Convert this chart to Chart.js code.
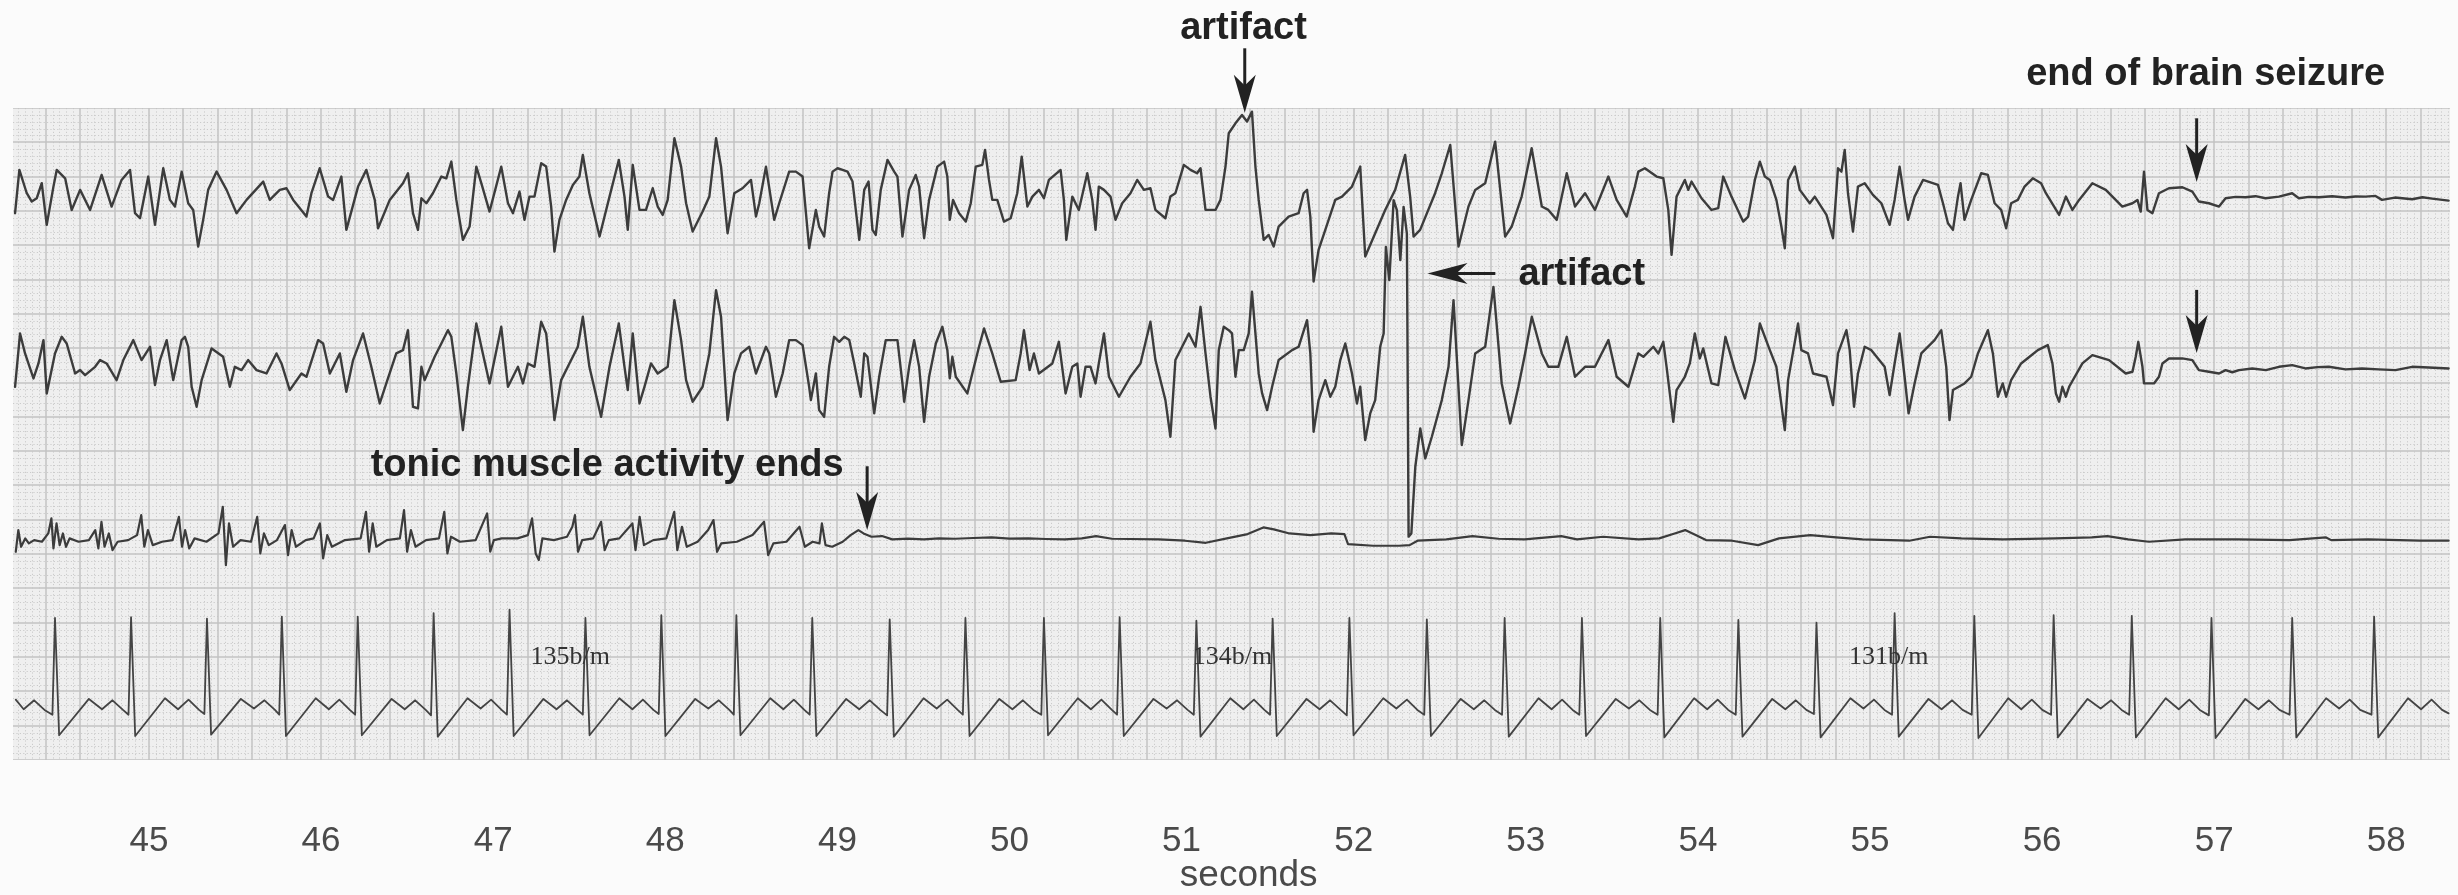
<!DOCTYPE html>
<html><head><meta charset="utf-8">
<script src="https://cdn.jsdelivr.net/npm/chart.js@4.4.1/dist/chart.umd.min.js"></script>
<style>
html,body{margin:0;padding:0;background:#fbfbfb;}
#wrap{position:relative;width:2458px;height:895px;}
</style></head><body>
<div id="wrap"><canvas id="c" width="2458" height="895"></canvas></div>
<script>
// ---------- data (time in seconds, deflection in mm of chart paper) ----------
const tickSeconds = [45,46,47,48,49,50,51,52,53,54,55,56,57,58];

const eeg1 = [
[44.222,-2.23],[44.247,4.08],[44.290,0.68],[44.319,-0.53],[44.348,-0.05],[44.377,2.14],[44.406,-3.93],[44.445,1.65],[44.464,4.08],[44.513,2.86],[44.551,-1.75],[44.600,1.17],[44.658,-1.75],[44.725,3.35],[44.783,-1.26],[44.841,2.62],[44.890,4.08],[44.919,-2.23],[44.948,-2.96],[44.996,3.11],[45.035,-3.93],[45.083,4.32],[45.122,-0.29],[45.151,-1.26],[45.190,3.83],[45.228,-0.78],[45.257,-1.75],[45.286,-7.09],[45.315,-3.20],[45.344,1.17],[45.393,3.83],[45.451,1.17],[45.509,-2.23],[45.567,-0.29],[45.664,2.38],[45.702,-0.29],[45.760,1.17],[45.799,1.41],[45.838,-0.29],[45.915,-2.72],[45.944,0.68],[45.992,4.32],[46.041,0.19],[46.070,-0.29],[46.118,3.11],[46.147,-4.66],[46.215,1.65],[46.263,4.08],[46.312,-0.29],[46.331,-4.42],[46.399,-0.29],[46.476,2.14],[46.505,3.59],
[46.534,-2.23],[46.563,-4.66],[46.583,-0.05],[46.612,-0.78],[46.650,0.68],[46.699,3.11],[46.728,2.86],[46.757,5.29],[46.786,-0.29],[46.824,-6.12],[46.863,-4.17],[46.902,4.56],[46.931,2.14],[46.979,-1.99],[47.047,4.56],[47.086,-0.78],[47.115,-2.23],[47.153,0.92],[47.182,-3.20],[47.211,0.19],[47.240,0.19],[47.279,5.05],[47.308,4.56],[47.337,-1.26],[47.356,-7.82],[47.385,-3.20],[47.424,-0.29],[47.463,1.89],[47.501,3.11],[47.521,6.26],[47.559,0.68],[47.618,-5.63],[47.676,0.19],[47.730,5.53],[47.763,0.19],[47.782,-4.66],[47.811,4.81],[47.850,-1.75],[47.888,-1.75],[47.927,1.41],[47.956,-1.26],[47.985,-2.48],[48.014,-0.29],[48.053,8.69],[48.092,4.56],[48.121,-0.78],[48.159,-4.90],[48.217,-1.99],[48.256,0.19],[48.295,8.69],[48.324,4.56],[48.362,-5.15],[48.401,0.68],[48.449,1.41],[48.498,2.62],[48.527,-2.72],[48.546,-0.78],[48.585,4.56],[48.633,-3.20],[48.662,-0.78],[48.720,3.83],[48.759,3.83],[48.798,3.11],[48.836,-7.33],[48.875,-1.75],
[48.894,-4.17],[48.923,-5.63],[48.952,0.68],[48.972,3.83],[49.001,4.32],[49.030,4.08],[49.059,3.83],[49.088,2.38],[49.107,-1.75],[49.127,-6.12],[49.156,1.17],[49.181,2.38],[49.204,-4.66],[49.223,-5.39],[49.252,1.17],[49.291,5.53],[49.330,3.83],[49.349,3.11],[49.378,-5.63],[49.417,1.17],[49.455,3.35],[49.475,1.65],[49.504,-5.87],[49.533,-0.29],[49.581,4.56],[49.620,5.29],[49.639,3.11],[49.653,-3.20],[49.672,-0.29],[49.707,-2.23],[49.746,-3.45],[49.775,-0.78],[49.804,4.56],[49.842,4.81],[49.858,6.99],[49.881,2.62],[49.900,-0.29],[49.929,-0.29],[49.968,-3.45],[50.007,-2.96],[50.045,0.68],[50.071,6.02],[50.104,-1.26],[50.133,0.19],[50.171,1.17],[50.200,-0.05],[50.229,2.62],[50.297,4.08],[50.316,-0.29],[50.330,-6.12],[50.365,0.19],[50.403,-1.75],[50.452,3.59],[50.481,-0.29],[50.500,-4.66],[50.519,1.65],[50.549,1.17],[50.587,0.19],[50.616,-3.20],[50.655,-0.78],[50.703,0.68],[50.742,2.62],[50.781,1.17],[50.819,1.41],[50.848,-1.75],[50.906,-2.96],[50.935,0.19],[50.964,0.68],[51.013,4.81],[51.052,4.08],[51.090,3.59],[51.110,4.32],[51.139,-1.75],[51.197,-1.75],[51.226,-0.29],[51.255,4.56],
[51.274,9.42],[51.313,10.87],[51.351,12.09],[51.380,11.12],[51.409,12.57],[51.429,4.56],[51.448,-0.29],[51.477,-6.12],[51.506,-5.39],[51.535,-7.09],[51.564,-4.17],[51.622,-2.72],[51.680,-2.23],[51.709,0.68],[51.729,1.17],[51.748,-2.72],[51.767,-12.18],[51.796,-7.57],[51.835,-4.66],[51.893,-0.29],[51.932,0.19],[51.990,1.65],[52.038,4.56],[52.067,-8.54],[52.125,-5.15],[52.183,-1.75],[52.241,1.17],[52.299,6.26],[52.328,0.19],[52.348,-5.63],[52.386,-4.66],[52.473,0.68],[52.512,3.59],[52.561,7.72],[52.609,-7.09],[52.667,-1.26],[52.706,1.17],[52.764,2.14],[52.822,8.20],[52.880,-5.63],[52.918,-4.17],[52.976,0.19],[53.034,7.23],[53.093,-1.26],[53.131,-1.75],[53.180,-3.20],[53.238,3.59],[53.286,-1.26],[53.344,0.68],[53.402,-1.75],[53.480,3.11],[53.528,-0.29],[53.586,-2.72],[53.634,1.65],
[53.654,3.83],[53.692,4.32],[53.760,3.11],[53.799,2.86],[53.828,-1.75],[53.847,-8.30],[53.876,0.19],[53.924,2.62],[53.944,1.17],[53.963,2.38],[54.021,-0.05],[54.079,-1.75],[54.118,-1.50],[54.147,3.11],[54.195,0.19],[54.263,-3.45],[54.292,-2.72],[54.331,2.62],[54.360,5.29],[54.389,3.11],[54.418,2.62],[54.456,-0.29],[54.485,-4.17],[54.505,-7.33],[54.524,2.62],[54.563,4.56],[54.592,1.17],[54.650,-0.78],[54.679,0.19],[54.747,-2.48],[54.785,-5.87],[54.814,4.32],[54.834,3.83],[54.853,6.99],[54.872,0.68],[54.901,-4.90],[54.930,1.65],[54.969,2.14],[55.017,0.44],[55.066,-0.78],[55.114,-3.93],[55.143,-0.29],[55.172,4.56],[55.201,-0.29],[55.221,-3.20],[55.259,0.19],[55.308,2.62],[55.395,1.89],[55.424,-0.78],[55.453,-3.69],[55.482,-4.66],[55.511,0.19],[55.526,2.14],[55.549,-3.20],[55.588,-0.29],[55.646,3.59],[55.685,3.35],[55.724,-0.78],[55.762,-1.75],[55.791,-4.42],[55.820,-0.78],[55.859,-0.29],[55.898,1.65],[55.946,2.86],[55.994,2.14],
[56.022,0.68],[56.099,-2.48],[56.138,0.19],[56.176,-1.75],[56.215,-0.29],[56.292,2.14],[56.370,1.17],[56.466,-1.26],[56.525,-0.78],[56.554,-0.29],[56.573,-1.99],[56.592,3.83],[56.612,-1.75],[56.641,-2.23],[56.679,0.68],[56.737,1.41],[56.815,1.55],[56.873,0.92],[56.911,-0.53],[56.969,-0.78],[57.028,-1.26],[57.066,-0.05],[57.124,0.15],[57.182,0.10],[57.240,0.25],[57.298,-0.05],[57.376,0.19],[57.453,0.68],[57.492,-0.05],[57.550,0.15],[57.608,0.10],[57.685,0.25],[57.763,0.05],[57.821,0.20],[57.879,0.19],[57.937,0.29],[57.975,-0.29],[58.050,0.05],[58.150,-0.19],[58.210,0.10],[58.266,-0.10],[58.362,-0.39]
];

const eeg2 = [
[44.222,-2.72],[44.251,5.05],[44.280,2.14],[44.329,-1.50],[44.358,0.68],[44.387,4.08],[44.406,-3.69],[44.454,2.14],[44.493,4.56],[44.522,3.59],[44.571,-0.78],[44.600,-0.29],[44.629,-1.02],[44.687,0.19],[44.716,1.17],[44.754,0.68],[44.812,-1.75],[44.851,1.17],[44.909,4.08],[44.957,1.17],[45.006,3.11],[45.035,-2.48],[45.064,1.17],[45.103,4.08],[45.141,-1.75],[45.190,4.08],[45.209,4.56],[45.228,3.11],[45.248,-2.72],[45.277,-5.63],[45.306,-1.75],[45.364,2.86],[45.431,1.65],[45.470,-2.72],[45.499,0.19],[45.538,-0.29],[45.576,1.17],[45.625,-0.29],[45.683,-0.78],[45.741,2.14],[45.770,0.68],[45.818,-3.20],[45.886,-0.78],[45.915,-1.26],[45.983,4.08],[46.012,3.59],[46.051,-0.78],[46.109,2.14],[46.147,-3.45],[46.186,1.17],[46.244,5.05],[46.292,0.19],[46.341,-5.15],[46.379,-2.23],[46.437,2.14],[46.476,2.62],[46.505,5.53],
[46.534,-5.63],[46.563,-5.87],[46.583,0.19],[46.602,-1.75],[46.660,1.65],[46.699,3.59],[46.737,5.53],[46.757,4.56],[46.786,-0.78],[46.824,-9.03],[46.853,-2.72],[46.902,6.50],[46.940,2.14],[46.979,-2.23],[47.047,6.02],[47.086,-2.72],[47.115,-1.26],[47.144,0.19],[47.173,-2.23],[47.202,0.68],[47.240,0.19],[47.279,6.75],[47.308,5.05],[47.337,-2.23],[47.356,-7.57],[47.395,-1.75],[47.443,0.68],[47.492,3.11],[47.521,7.48],[47.559,0.19],[47.627,-7.09],[47.676,0.19],[47.730,6.50],[47.763,0.19],[47.782,-3.20],[47.811,5.05],[47.850,-5.15],[47.879,-2.72],[47.917,0.68],[47.956,-0.78],[48.014,0.19],[48.053,9.90],[48.092,4.08],[48.121,-1.75],[48.159,-4.90],[48.217,-2.72],[48.256,2.14],[48.295,11.36],[48.324,7.48],[48.362,-7.57],[48.401,-0.78],[48.440,2.14],[48.488,3.11],[48.527,-0.78],[48.556,1.17],[48.585,3.11],[48.604,2.14],[48.643,-4.17],[48.682,-0.78],[48.720,4.08],[48.759,4.08],[48.798,3.35],[48.836,-2.72],[48.846,-4.66],[48.875,-0.78],
[48.894,-6.12],[48.923,-7.09],[48.952,0.19],[48.981,4.56],[49.011,3.83],[49.040,4.56],[49.069,4.08],[49.098,0.68],[49.136,-4.17],[49.156,2.14],[49.175,1.65],[49.214,-6.60],[49.243,-1.26],[49.281,4.08],[49.349,4.08],[49.378,-2.23],[49.388,-4.90],[49.417,0.19],[49.446,4.08],[49.475,0.19],[49.504,-7.82],[49.533,-1.26],[49.572,3.59],[49.610,6.02],[49.639,2.62],[49.653,-1.50],[49.668,1.65],[49.688,-1.26],[49.755,-3.69],[49.784,-0.78],[49.823,3.11],[49.852,5.78],[49.900,2.14],[49.949,-1.99],[50.036,-1.75],[50.065,2.14],[50.084,5.53],[50.117,-0.29],[50.142,2.14],[50.171,-0.78],[50.249,0.68],[50.287,3.83],[50.326,-3.69],[50.365,0.19],[50.394,0.68],[50.413,-4.17],[50.442,0.19],[50.471,0.19],[50.500,-2.23],[50.519,0.68],[50.549,5.05],[50.578,-1.26],[50.636,-4.17],[50.703,-1.26],[50.761,0.68],[50.819,6.75],[50.848,1.17],[50.906,-4.66],[50.935,-10.00],[50.964,1.17],[51.042,5.05],[51.081,3.11],[51.110,8.93],[51.139,2.14],[51.168,-4.17],[51.197,-8.79],[51.216,2.62],[51.245,6.02],[51.274,5.53],
[51.293,5.05],[51.313,-1.26],[51.332,2.62],[51.361,2.62],[51.390,5.05],[51.409,11.12],[51.429,5.05],[51.448,-0.78],[51.468,-3.69],[51.497,-6.12],[51.526,-2.72],[51.564,1.17],[51.642,2.62],[51.680,3.11],[51.729,6.99],[51.748,2.14],[51.767,-9.27],[51.796,-4.66],[51.835,-1.75],[51.864,-4.17],[51.893,-2.72],[51.922,1.17],[51.951,3.59],[51.990,-0.78],[52.019,-5.15],[52.038,-2.72],[52.067,-10.49],[52.096,-6.60],[52.125,-4.66],[52.154,3.11],[52.174,5.05],[52.187,17.67],[52.207,12.82],[52.232,24.47],[52.251,23.01],[52.271,15.73],[52.290,23.50],[52.309,19.61],[52.319,-24.56],[52.335,-24.08],[52.358,-14.37],[52.387,-8.79],[52.416,-13.16],[52.454,-10.00],[52.512,-4.66],[52.551,0.19],[52.580,9.90],[52.628,-11.21],[52.667,-4.66],[52.706,2.14],[52.764,3.11],[52.812,11.84],[52.860,-2.23],[52.909,-8.06],[52.957,-2.72],[52.996,2.14],[53.035,7.48],[53.093,2.14],[53.131,0.19],[53.189,0.19],[53.238,4.56],[53.286,-1.26],[53.344,0.19],[53.402,0.19],[53.480,4.08],[53.528,-1.26],[53.596,-2.72],[53.654,2.14],
[53.683,1.65],[53.741,3.11],[53.770,2.14],[53.799,3.83],[53.818,0.19],[53.857,-7.82],[53.876,-3.20],[53.924,-1.26],[53.953,0.68],[53.982,5.05],[54.011,1.41],[54.031,2.86],[54.079,-2.23],[54.118,-2.48],[54.160,4.56],[54.215,-0.29],[54.273,-4.42],[54.331,1.17],[54.360,6.50],[54.418,2.62],[54.456,0.19],[54.505,-9.03],[54.524,-1.75],[54.582,6.50],[54.601,2.62],[54.640,2.14],[54.669,-0.78],[54.747,-1.26],[54.785,-5.39],[54.814,2.14],[54.863,5.53],[54.882,2.62],[54.907,-5.63],[54.930,-0.78],[54.969,3.11],[55.008,2.62],[55.085,0.19],[55.114,-3.93],[55.143,0.68],[55.172,5.05],[55.201,-1.26],[55.224,-6.60],[55.259,-2.23],[55.298,2.14],[55.375,4.08],[55.414,5.53],[55.443,0.19],[55.462,-7.57],[55.482,-3.20],[55.549,-2.23],[55.588,-1.26],[55.627,2.14],[55.685,5.53],[55.714,2.14],[55.743,-4.17],[55.771,-2.23],[55.791,-4.17],[55.820,-1.75],[55.878,0.68],[55.927,1.65],[55.975,2.62],[56.033,3.35],
[56.060,0.68],[56.080,-3.69],[56.099,-4.90],[56.118,-2.72],[56.138,-4.17],[56.157,-2.72],[56.234,0.68],[56.292,1.89],[56.389,1.17],[56.486,-0.78],[56.525,-0.53],[56.544,1.65],[56.559,3.83],[56.583,0.19],[56.592,-2.23],[56.650,-2.23],[56.679,-1.26],[56.699,0.68],[56.737,1.41],[56.815,1.41],[56.873,1.17],[56.911,-0.29],[56.969,-0.53],[57.028,-0.78],[57.066,-0.29],[57.105,-0.60],[57.144,-0.29],[57.221,-0.05],[57.300,-0.30],[57.376,0.19],[57.453,0.44],[57.530,-0.05],[57.600,0.15],[57.666,0.19],[57.763,-0.19],[57.859,-0.05],[57.956,-0.19],[58.053,-0.29],[58.150,0.19],[58.246,0.10],[58.362,-0.05]
];

const emg = [
[44.226,-1.46],[44.241,1.70],[44.257,-0.73],[44.281,0.49],[44.302,-0.24],[44.333,0.24],[44.378,0],[44.415,1.21],[44.433,3.40],[44.445,-0.97],[44.463,2.67],[44.481,-0.49],[44.500,1.21],[44.518,-0.73],[44.539,0.49],[44.591,0],[44.651,0.24],[44.688,1.70],[44.706,-0.97],[44.724,2.91],[44.742,-0.73],[44.767,1.21],[44.788,-1.21],[44.818,0],[44.879,0.24],[44.931,0.97],[44.955,3.88],[44.973,-0.73],[44.994,1.70],[45.022,-0.49],[45.076,0],[45.137,0.24],[45.174,3.64],[45.192,-0.73],[45.210,1.70],[45.234,-0.97],[45.265,0.49],[45.334,0],[45.404,1.21],[45.429,5.10],[45.447,-3.40],[45.465,2.67],[45.489,-0.73],[45.532,0.24],[45.593,0],[45.629,3.64],[45.647,-1.70],[45.668,1.21],[45.696,-0.49],[45.744,0.24],[45.790,2.43],[45.808,-1.94],[45.829,1.70],[45.854,-0.73],[45.911,0.24],[45.957,0.49],[45.993,2.67],[46.012,-2.43],[46.036,0.97],[46.063,-0.73],[46.139,0.24],[46.230,0.49],[46.261,4.37],[46.279,-1.46],[46.300,2.67],[46.321,-0.73],[46.382,0.24],[46.458,0.49],[46.482,4.61],[46.500,-1.46],[46.522,1.70],[46.549,-0.73],[46.610,0.24],[46.685,0.49],[46.716,4.37],[46.734,-1.70],[46.755,0.73],[46.807,0],[46.898,0.24],[46.965,4.13],[46.983,-1.46],[47.004,0.24],[47.050,0.49],[47.141,0.49],[47.202,0.97],[47.226,3.40],[47.247,-1.70],[47.265,-2.67],[47.286,0.49],[47.353,0.24],[47.429,0.73],[47.460,2.18],[47.475,3.88],[47.493,-1.46],[47.517,0.24],[47.581,0.49],[47.627,2.91],[47.648,-1.21],[47.672,0.24],[47.733,0.49],[47.809,2.67],[47.827,-1.21],[47.851,3.64],[47.876,-0.49],[47.930,0.24],[48.006,0.49],[48.052,4.37],[48.070,-1.21],[48.097,2.18],[48.125,-0.73],[48.188,0],[48.249,1.70],[48.280,3.16],[48.301,-1.46],[48.325,-0.24],[48.416,0],[48.507,0.97],[48.574,2.91],[48.598,-1.94],[48.628,-0.24],[48.704,0],[48.780,2.18],[48.811,-0.73],[48.856,0],[48.896,-0.24],
[48.910,2.67],[48.931,-0.49],[48.970,-0.73],[49.031,0],[49.077,0.97],[49.122,1.70],[49.152,1.21],[49.198,0.73],[49.259,0.83],[49.319,0.34],[49.410,0.45],[49.502,0.34],[49.590,0.50],[49.684,0.44],[49.790,0.55],[49.896,0.63],[50.000,0.45],[50.109,0.49],[50.210,0.40],[50.321,0.34],[50.420,0.50],[50.503,0.83],[50.595,0.44],[50.700,0.40],[50.868,0.34],[51.020,0.15],[51.141,-0.15],[51.263,0.49],[51.384,1.12],[51.475,2.09],[51.536,1.80],[51.627,1.21],[51.748,0.97],[51.870,1.21],[51.946,1.12],[51.967,-0.34],[52.113,-0.58],[52.264,-0.58],[52.325,-0.49],[52.371,0.15],[52.538,0.34],[52.690,0.83],[52.841,0.44],[52.993,0.34],[53.206,0.83],[53.297,0.34],[53.449,0.73],[53.655,0.34],
[53.775,0.49],[53.865,1.21],[53.926,1.70],[53.987,0.97],[54.047,0.24],[54.199,0.15],[54.350,-0.49],[54.471,0.49],[54.653,0.97],[54.804,0.63],[54.956,0.34],[55.228,0.15],[55.349,0.73],[55.531,0.49],[55.773,0.34],[56.076,0.49],[56.288,0.63],[56.379,0.83],[56.500,0.34],[56.621,0],[56.833,0.34],[57.136,0.34],[57.438,0.24],[57.650,0.63],[57.680,0.24],[57.893,0.34],[58.195,0.15],[58.362,0.15]
];

const ecg = [
[44.226,1.5],[44.272,0.1],[44.333,1.4],[44.393,0],
[44.439,-0.7],[44.454,13.4],[44.478,-3.7],[44.651,1.6],[44.727,0.1],[44.788,1.4],[44.849,0],
[44.881,-0.7],[44.896,13.5],[44.920,-3.8],[45.093,1.7],[45.169,0.1],[45.230,1.5],[45.291,0],
[45.322,-0.6],[45.337,13.3],[45.361,-3.6],[45.534,1.6],[45.610,0.2],[45.671,1.4],[45.732,0],
[45.757,-0.7],[45.772,13.6],[45.796,-3.8],[45.969,1.7],[46.045,0.1],[46.106,1.5],[46.167,0],
[46.198,-0.7],[46.213,13.6],[46.237,-3.7],[46.410,1.6],[46.486,0.1],[46.547,1.4],[46.608,0],
[46.639,-0.8],[46.654,14.1],[46.678,-3.9],[46.851,1.7],[46.927,0.2],[46.988,1.5],[47.049,0],
[47.080,-0.7],[47.095,14.6],[47.119,-3.8],[47.292,1.6],[47.368,0.1],[47.429,1.4],[47.490,0],
[47.521,-0.7],[47.536,13.4],[47.560,-3.7],[47.733,1.7],[47.809,0.1],[47.870,1.5],[47.931,0],
[47.962,-0.6],[47.977,13.8],[48.001,-3.8],[48.174,1.6],[48.250,0.2],[48.311,1.4],[48.372,0],
[48.398,-0.7],[48.413,13.8],[48.437,-3.7],[48.610,1.7],[48.686,0.1],[48.747,1.5],[48.808,0],
[48.839,-0.7],[48.854,13.4],[48.878,-3.8],[49.051,1.6],[49.127,0.1],[49.188,1.4],[49.249,0],
[49.289,-0.8],[49.304,13.2],[49.328,-3.9],[49.501,1.7],[49.577,0.2],[49.638,1.5],[49.699,0],
[49.729,-0.7],[49.744,13.4],[49.768,-3.8],[49.941,1.6],[50.017,0.1],[50.078,1.4],[50.139,0],
[50.185,-0.7],[50.200,13.4],[50.224,-3.7],[50.397,1.7],[50.473,0.1],[50.534,1.5],[50.595,0],
[50.625,-0.7],[50.640,13.5],[50.664,-3.8],[50.837,1.6],[50.913,0.2],[50.974,1.4],[51.035,0],
[51.071,-0.7],[51.086,13.0],[51.110,-3.9],[51.283,1.7],[51.359,0.1],[51.420,1.5],[51.481,0],
[51.514,-0.7],[51.529,13.3],[51.553,-3.8],[51.726,1.6],[51.802,0.1],[51.863,1.4],[51.924,0],
[51.960,-0.8],[51.975,13.4],[51.999,-3.7],[52.172,1.7],[52.248,0.2],[52.309,1.5],[52.370,0],
[52.410,-0.7],[52.425,13.2],[52.449,-3.8],[52.622,1.6],[52.698,0.1],[52.759,1.4],[52.820,0],
[52.862,-0.7],[52.877,13.4],[52.901,-3.9],[53.074,1.7],[53.150,0.1],[53.211,1.5],[53.272,0],
[53.311,-0.7],[53.326,13.4],[53.350,-3.8],[53.523,1.6],[53.599,0.2],[53.660,1.4],[53.721,0],
[53.766,-0.7],[53.781,13.4],[53.805,-4.0],[53.978,1.7],[54.054,0.1],[54.115,1.5],[54.176,0],
[54.220,-0.7],[54.235,13.1],[54.259,-3.9],[54.432,1.6],[54.508,0.1],[54.569,1.4],[54.630,0],
[54.674,-0.6],[54.689,12.7],[54.713,-4.0],[54.886,1.7],[54.962,0.2],[55.023,1.5],[55.084,0],
[55.128,-0.7],[55.143,14.1],[55.167,-3.9],[55.340,1.6],[55.416,0.1],[55.477,1.4],[55.538,0],
[55.591,-0.7],[55.606,13.7],[55.630,-4.1],[55.803,1.7],[55.879,0.1],[55.940,1.5],[56.001,0],
[56.052,-0.7],[56.067,13.8],[56.091,-4.0],[56.264,1.6],[56.340,0.2],[56.401,1.4],[56.462,0],
[56.506,-0.7],[56.521,13.7],[56.545,-4.0],[56.718,1.7],[56.794,0.1],[56.855,1.5],[56.916,0],
[56.969,-0.8],[56.984,13.4],[57.008,-4.1],[57.181,1.6],[57.257,0.1],[57.318,1.4],[57.379,0],
[57.438,-0.7],[57.453,13.4],[57.477,-4.0],[57.650,1.7],[57.726,0.2],[57.787,1.5],[57.848,0],
[57.914,-0.7],[57.929,13.6],[57.953,-4.0],[58.126,1.7],[58.202,0.1],[58.263,1.5],[58.324,0],[58.362,-0.5]
];

const rateLabels = ['135b/m','134b/m','131b/m'];
const rateLabelTimes = [47.217, 51.065, 54.878];

// ---------- layout ----------
const baseline = { eeg1: 81.9, eeg2: 57.1, emg: 31.8, ecg: 7.3 };   // channel baselines, mm from paper bottom
const toXY = (pts, b) => pts.map(p => ({ x: p[0], y: b + p[1] }));

const INK = '#222';
const annotations = {
  downArrows: [ // [t, mmFrom, mmTo]
    [51.367, 103.7, 94.3],
    [56.898, 93.5, 84.2],
    [56.898, 68.5, 59.3],
    [49.173, 42.8, 33.5]
  ],
  leftArrow: [52.823, 52.429, 70.9],
  texts: [ // [text, t, mm, align]
    ['artifact', 51.360, 105.1, 'center'],
    ['end of brain seizure', 56.950, 98.3, 'center'],
    ['artifact', 52.957, 69.2, 'left'],
    ['tonic muscle activity ends', 46.288, 41.4, 'left']
  ]
};

const paperPlugin = {
  id: 'paper',
  beforeDraw(chart) {
    const { ctx, chartArea: a, scales: { x, y } } = chart;
    ctx.save();
    ctx.fillStyle = '#fbfbfb';
    ctx.fillRect(0, 0, chart.width, chart.height);
    ctx.fillStyle = '#efefef';
    ctx.fillRect(a.left, a.top, a.right - a.left, a.bottom - a.top);
    ctx.beginPath(); ctx.rect(a.left, a.top, a.right - a.left, a.bottom - a.top); ctx.clip();
    // minor (dotted) lines: 0.04 s and 1 mm
    ctx.strokeStyle = '#cbcbcb'; ctx.lineWidth = 1; ctx.setLineDash([1.2, 2.2]);
    ctx.beginPath();
    for (let k = Math.ceil(x.min / 0.04); k * 0.04 <= x.max + 1e-9; k++) {
      if (k % 5 === 0) continue;
      const px = Math.round(x.getPixelForValue(k * 0.04)) + 0.5;
      ctx.moveTo(px, a.top); ctx.lineTo(px, a.bottom);
    }
    for (let m = 0; m <= y.max; m++) {
      if (m % 5 === 0) continue;
      const py = Math.round(y.getPixelForValue(y.max - m)) + 0.5;
      ctx.moveTo(a.left, py); ctx.lineTo(a.right, py);
    }
    ctx.stroke();
    ctx.setLineDash([]);
    // major lines: 0.2 s and 5 mm
    ctx.strokeStyle = '#c3c3c3'; ctx.lineWidth = 1.5;
    ctx.beginPath();
    for (let k = Math.ceil(x.min / 0.2); k * 0.2 <= x.max + 1e-9; k++) {
      const px = Math.round(x.getPixelForValue(k * 0.2));
      ctx.moveTo(px, a.top); ctx.lineTo(px, a.bottom);
    }
    for (let m = 0; m <= y.max; m += 5) {
      const py = Math.round(y.getPixelForValue(y.max - m));
      ctx.moveTo(a.left, py); ctx.lineTo(a.right, py);
    }
    ctx.stroke();
    ctx.restore();
  }
};

function arrowHead(ctx, tipX, tipY, dx, dy, len, wid) {
  const bx = tipX - dx * len, by = tipY - dy * len;
  const nx = -dy, ny = dx;
  const notchX = tipX - dx * len * 0.72, notchY = tipY - dy * len * 0.72;
  ctx.beginPath();
  ctx.moveTo(tipX, tipY);
  ctx.lineTo(bx + nx * wid / 2, by + ny * wid / 2);
  ctx.lineTo(notchX, notchY);
  ctx.lineTo(bx - nx * wid / 2, by - ny * wid / 2);
  ctx.closePath();
  ctx.fill();
}

const notesPlugin = {
  id: 'notes',
  afterDraw(chart) {
    const { ctx, scales: { x, y } } = chart;
    ctx.save();
    ctx.fillStyle = INK; ctx.strokeStyle = INK; ctx.lineWidth = 3;
    annotations.downArrows.forEach(([t, m0, m1]) => {
      const px = x.getPixelForValue(t), y0 = y.getPixelForValue(m0), y1 = y.getPixelForValue(m1);
      ctx.beginPath(); ctx.moveTo(px, y0); ctx.lineTo(px, y1 - 20); ctx.stroke();
      arrowHead(ctx, px, y1, 0, 1, 38, 22);
    });
    {
      const [t0, t1, m] = annotations.leftArrow;
      const x0 = x.getPixelForValue(t0), x1 = x.getPixelForValue(t1), py = y.getPixelForValue(m);
      ctx.beginPath(); ctx.moveTo(x0, py); ctx.lineTo(x1 + 20, py); ctx.stroke();
      arrowHead(ctx, x1, py, -1, 0, 40, 21);
    }
    ctx.font = 'bold 38px "Liberation Sans", Arial, Helvetica, sans-serif';
    ctx.textBaseline = 'alphabetic';
    annotations.texts.forEach(([s, t, m, al]) => {
      ctx.textAlign = al;
      ctx.fillText(s, x.getPixelForValue(t), y.getPixelForValue(m));
    });
    // heart-rate labels
    ctx.font = '26px "Liberation Serif", "DejaVu Serif", serif';
    ctx.fillStyle = '#333'; ctx.textAlign = 'left';
    rateLabels.forEach((s, i) => {
      ctx.fillText(s, x.getPixelForValue(rateLabelTimes[i]), y.getPixelForValue(14.0));
    });
    // axis title
    ctx.font = '37px "Liberation Sans", Arial, Helvetica, sans-serif';
    ctx.fillStyle = '#4a4a4a'; ctx.textAlign = 'center'; ctx.textBaseline = 'middle';
    ctx.fillText('seconds', x.getPixelForValue(51.39), y.getPixelForValue(-16.8));
    ctx.restore();
  }
};

const lineStyle = (color, w) => ({ borderColor: color, borderWidth: w, pointRadius: 0, tension: 0, fill: false, borderJoinStyle: 'round', borderCapStyle: 'round' });

new Chart(document.getElementById('c'), {
  type: 'line',
  data: {
    datasets: [
      Object.assign({ label: 'EEG 1', data: toXY(eeg1, baseline.eeg1) }, lineStyle('#3c3c3c', 2.4)),
      Object.assign({ label: 'EEG 2', data: toXY(eeg2, baseline.eeg2) }, lineStyle('#3c3c3c', 2.4)),
      Object.assign({ label: 'EMG', data: toXY(emg, baseline.emg) }, lineStyle('#3c3c3c', 2.2)),
      Object.assign({ label: 'ECG', data: toXY(ecg, baseline.ecg) }, lineStyle('#444444', 1.8))
    ]
  },
  options: {
    responsive: false,
    animation: false,
    devicePixelRatio: 1,
    layout: { padding: { left: 13, right: 8, top: 108, bottom: 0 } },
    plugins: { legend: { display: false }, tooltip: { enabled: false } },
    scales: {
      x: {
        type: 'linear', min: 44.21, max: 58.37, position: 'bottom',
        // invisible tick marks push the labels down without widening the side padding
        grid: { display: true, drawOnChartArea: false, drawTicks: true, tickLength: 38, color: 'rgba(0,0,0,0)' },
        border: { display: false },
        ticks: {
          font: { family: '"Liberation Sans", Arial, Helvetica, sans-serif', size: 35 },
          color: '#4a4a4a', padding: 22, maxRotation: 0, autoSkip: false,
          callback: v => String(v)
        },
        afterBuildTicks: ax => { ax.ticks = tickSeconds.map(v => ({ value: v })); },
        afterFit: ax => { ax.height = 135; }
      },
      y: { type: 'linear', min: 0, max: 95, display: false }
    }
  },
  plugins: [paperPlugin, notesPlugin]
});
</script>
</body></html>
